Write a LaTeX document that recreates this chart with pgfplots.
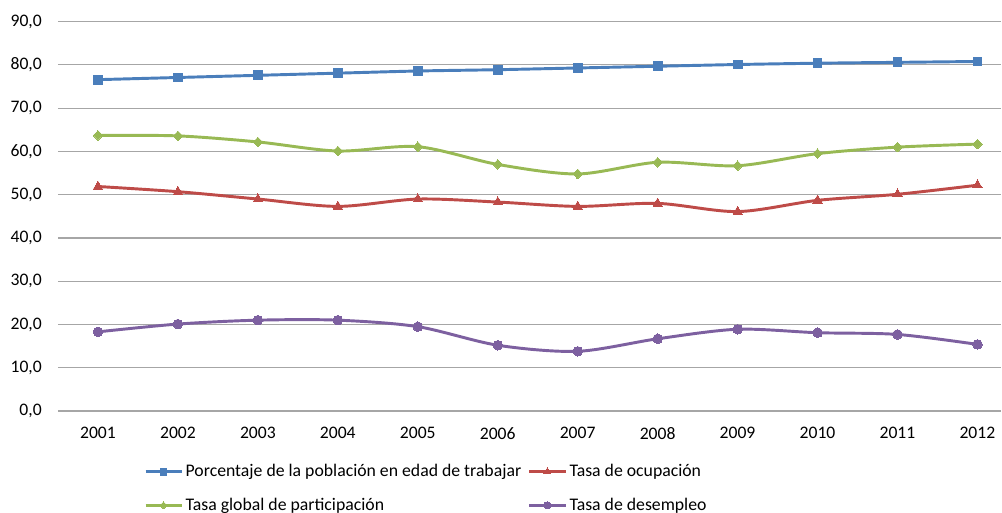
\documentclass[border=0pt]{standalone}
\usepackage{fontspec}
\setmainfont{Carlito}
\usepackage{pgfplots}
\pgfplotsset{compat=1.18}
\definecolor{SerieAzul}{HTML}{4A7EBB}
\definecolor{SerieRoja}{HTML}{BE4B48}
\definecolor{SerieVerde}{HTML}{98B954}
\definecolor{SerieMorada}{HTML}{7D60A0}
\definecolor{Rejilla}{HTML}{A6A6A6}

\begin{document}
\begin{tikzpicture}
\begin{axis}[
  scale only axis,
  width=707pt, height=292pt,
  xmin=2000.5, xmax=2012.29,
  ymin=0, ymax=90,
  ytick={0,10,...,90},
  xtick={2001,...,2012},
  ymajorgrids,
  major grid style={draw=Rejilla, line width=0.8pt},
  axis line style={draw=none},
  major tick length=0pt,
  tick style={draw=none},
  font=\fontsize{13.2}{15}\selectfont,
  /pgf/number format/assume math mode=true,
  x tick label style={/pgf/number format/1000 sep={}, inner sep=0pt, anchor=north, yshift=-12pt},
  y tick label style={/pgf/number format/.cd, fixed, fixed zerofill, precision=1, use comma, /tikz/.cd, inner sep=0pt, anchor=east, xshift=-12pt},
  legend columns=2,
  legend cell align=left,
  legend style={draw=none, fill=none, at={(0.091,-0.13)}, anchor=north west,
    font=\fontsize{13.3}{15}\selectfont, inner sep=0pt,
    /tikz/every even column/.append style={column sep=3pt},
    row sep=10.5pt},
  legend image code/.code={\draw[mark repeat=2,mark phase=2, every mark/.append style={scale=0.75}] plot coordinates {(0pt,0pt) (13.5pt,0pt) (27pt,0pt)};},
  every axis plot/.append style={line width=2.2pt, smooth},
]
\addplot[color=SerieAzul, mark=square*, mark size=3.3pt, mark options={solid, fill=SerieAzul, line width=0pt}] coordinates {
  (2001,76.6) (2002,77.1) (2003,77.6) (2004,78.1) (2005,78.6) (2006,78.9)
  (2007,79.3) (2008,79.7) (2009,80.1) (2010,80.4) (2011,80.6) (2012,80.8)
};
\addlegendentry{Porcentaje de la población en edad de trabajar}
\addplot[color=SerieRoja, mark=triangle*, mark size=4pt, mark options={solid, fill=SerieRoja, line width=0pt}] coordinates {
  (2001,51.9) (2002,50.7) (2003,49.0) (2004,47.3) (2005,49.0) (2006,48.3)
  (2007,47.3) (2008,48.0) (2009,46.1) (2010,48.7) (2011,50.1) (2012,52.2)
};
\addlegendentry{Tasa de ocupación}
\addplot[color=SerieVerde, mark=diamond*, mark size=3.6pt, mark options={solid, fill=SerieVerde, line width=0pt, xscale=1.3}] coordinates {
  (2001,63.7) (2002,63.6) (2003,62.2) (2004,60.1) (2005,61.1) (2006,57.0)
  (2007,54.8) (2008,57.5) (2009,56.7) (2010,59.5) (2011,61.0) (2012,61.7)
};
\addlegendentry{Tasa global de participación}
\addplot[color=SerieMorada, mark=*, mark size=3.6pt, mark options={solid, fill=SerieMorada, line width=0pt}] coordinates {
  (2001,18.3) (2002,20.1) (2003,21.0) (2004,21.0) (2005,19.5) (2006,15.2)
  (2007,13.8) (2008,16.7) (2009,18.9) (2010,18.1) (2011,17.7) (2012,15.4)
};
\addlegendentry{Tasa de desempleo}
\end{axis}
\pgfresetboundingbox
\path (-43.5pt,-75.75pt) rectangle (708pt,308.25pt);
\end{tikzpicture}
\end{document}
